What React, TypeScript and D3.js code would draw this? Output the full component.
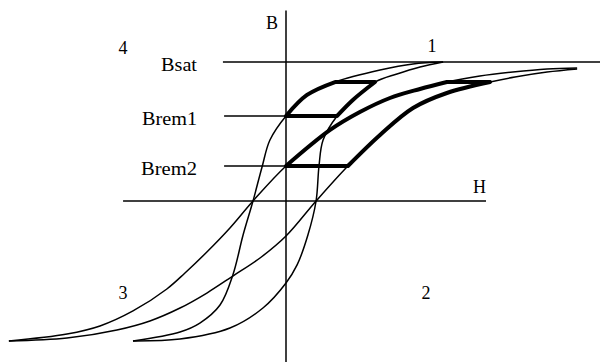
import React, { useEffect, useRef } from 'react';
import * as d3 from 'd3';

type Pt = [number, number]; // [H, B], normalised so that Bsat = 1

// Narrow loop
const smallDown: Pt[] = [
  [0.538, 1.0], [0.435, 0.986], [0.322, 0.942], [0.168, 0.856], [0.072, 0.763],
  [0, 0.612], [-0.055, 0.439], [-0.082, 0.245], [-0.113, 0], [-0.147, -0.245],
  [-0.182, -0.532], [-0.226, -0.748], [-0.295, -0.878], [-0.363, -0.942],
  [-0.524, -1.007],
];
const smallUp: Pt[] = [
  [-0.524, -1.007], [-0.363, -0.993], [-0.192, -0.914], [-0.079, -0.77],
  [0, -0.59], [0.038, -0.46], [0.075, -0.245], [0.103, 0], [0.113, 0.252],
  [0.127, 0.439], [0.175, 0.612], [0.229, 0.727], [0.305, 0.856],
  [0.38, 0.914], [0.459, 0.964], [0.538, 1.0],
];

// Wide loop
const largeDown: Pt[] = [
  [0.997, 0.957], [0.894, 0.95], [0.777, 0.928], [0.664, 0.899], [0.551, 0.856],
  [0.459, 0.806], [0.356, 0.741], [0.253, 0.64], [0.151, 0.511], [0, 0.252],
  [-0.113, 0], [-0.192, -0.194], [-0.271, -0.367], [-0.346, -0.518],
  [-0.408, -0.633], [-0.524, -0.791], [-0.637, -0.899], [-0.75, -0.957],
  [-0.949, -1.007],
];
const largeUp: Pt[] = [
  [-0.949, -1.007], [-0.75, -0.986], [-0.579, -0.928], [-0.466, -0.863],
  [-0.363, -0.77], [-0.271, -0.662], [-0.182, -0.54], [-0.089, -0.41],
  [0, -0.252], [0.103, 0], [0.212, 0.252], [0.322, 0.475], [0.435, 0.669],
  [0.551, 0.777], [0.699, 0.856], [0.784, 0.892], [0.894, 0.928], [0.997, 0.95],
];

// Minor loops drawn heavy: pieces of the branches above.
// Left sides run top -> B axis, right sides run Brem -> top.
const minor1Left = smallDown.slice(3, 6);
const minor1Right = smallUp.slice(10, 13);
const minor2Left = largeDown.slice(4, 10);
const minor2Right = largeUp.slice(10, 15);

// Reference levels on the B axis
const levelNames = ['Bsat', 'Brem1', 'Brem2'];
const levelValues = [1, 0.612, 0.252];

const quadrantNames = ['1', '2', '3', '4'];

const App = () => {
  const ref = useRef<SVGSVGElement>(null);

  useEffect(() => {
    const width = 600;
    const height = 362;

    const x = d3.scaleLinear().domain([-1, 1]).range([-6, 578]);
    const y = d3.scaleLinear().domain([-1, 1]).range([340, 62]);

    const svg = d3.select(ref.current);
    svg.selectAll('*').remove();
    svg.attr('width', width).attr('height', height);

    const g = svg.append('g');

    const line = d3.line<Pt>()
      .x(d => x(d[0]))
      .y(d => y(d[1]))
      .curve(d3.curveCatmullRom.alpha(0.5));

    const seg = (a: Pt, b: Pt, w: number) =>
      g.append('line')
        .attr('x1', x(a[0])).attr('y1', y(a[1]))
        .attr('x2', x(b[0])).attr('y2', y(b[1]))
        .attr('stroke', 'black')
        .attr('stroke-width', w);

    // axes
    seg([-0.558, 0], [0.685, 0], 1.5);
    seg([0, 1.37], [0, y.invert(height)], 1.5);

    // level lines: Bsat runs across, the remanence lines stop at the B axis
    seg([-0.216, levelValues[0]], [x.invert(width), levelValues[0]], 1.5);
    seg([-0.212, levelValues[1]], [0, levelValues[1]], 1.5);
    seg([-0.212, levelValues[2]], [0, levelValues[2]], 1.5);

    // loop branches
    [smallDown, smallUp, largeDown, largeUp].forEach(branch => {
      g.append('path')
        .datum(branch)
        .attr('d', line)
        .attr('fill', 'none')
        .attr('stroke', 'black')
        .attr('stroke-width', 1.5);
    });

    // heavy minor loops
    [minor1Left, minor1Right, minor2Left, minor2Right].forEach(side => {
      g.append('path')
        .datum(side)
        .attr('d', line)
        .attr('fill', 'none')
        .attr('stroke', 'black')
        .attr('stroke-width', 4)
        .attr('stroke-linecap', 'round');
    });
    const last = (a: Pt[]) => a[a.length - 1];
    seg(minor1Left[0], last(minor1Right), 4);
    seg(last(minor1Left), minor1Right[0], 4);
    seg(minor2Left[0], last(minor2Right), 4);
    seg(last(minor2Left), minor2Right[0], 4);

    const text = (s: string, px: number, py: number, anchor: string, len?: number) => {
      const t = g.append('text')
        .attr('x', px)
        .attr('y', py)
        .attr('text-anchor', anchor)
        .attr('font-family', '"Liberation Serif", "Times New Roman", serif')
        .attr('font-size', 18)
        .attr('fill', 'black')
        .text(s);
      if (len) t.attr('textLength', len).attr('lengthAdjust', 'spacingAndGlyphs');
    };

    // axis names
    text('B', x(0) - 14, 29, 'middle');
    text('H', x(0.685), 193, 'end');

    // level labels
    const lens = [36, 55, 56];
    levelNames.forEach((name, i) => text(name, 197, y(levelValues[i]) + 9, 'end', lens[i]));

    // quadrant numbers
    const qPos: [number, number][] = [[432, 52], [426, 299], [123, 299], [123, 54]];
    quadrantNames.forEach((q, i) => text(q, qPos[i][0], qPos[i][1], 'middle'));
  });

  return (
    <svg ref={ref} style={{ position: 'absolute', left: 0, top: 0, background: 'white' }} />
  );
};

export default App;
